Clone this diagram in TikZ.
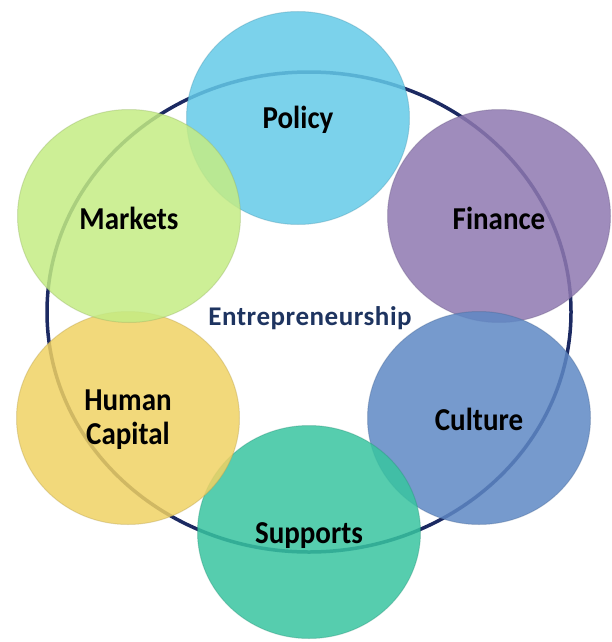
\documentclass[tikz,border=0pt]{standalone}
\usepackage{fontspec}
\setmainfont{Carlito}
\usetikzlibrary{shapes.geometric}
\definecolor{ringc}{RGB}{28,42,98}
\definecolor{entc}{RGB}{30,52,96}
\definecolor{cpolicy}{RGB}{100,202,232}
\definecolor{cfinance}{RGB}{142,120,176}
\definecolor{cculture}{RGB}{94,136,196}
\definecolor{csupports}{RGB}{56,196,160}
\definecolor{chuman}{RGB}{240,210,100}
\definecolor{cmarkets}{RGB}{196,236,132}
\newcommand{\tall}[1]{\scalebox{1}[1.1]{#1}}
\tikzset{
  bub/.style={ellipse, minimum width=223pt, minimum height=213pt, inner sep=0pt,
    fill=#1, fill opacity=0.85, text opacity=1, draw=#1!75!black, draw opacity=0.35, line width=1pt},
  lab/.style={font=\fontsize{29}{34}\selectfont\bfseries, text=black, align=center},
  ringstyle/.style={ellipse, draw=ringc, line width=3.5pt, minimum width=524pt, minimum height=480pt, inner sep=0pt},
  enttext/.style={font=\fontsize{27}{32}\selectfont\bfseries, text=entc}
}
\begin{document}
\begin{tikzpicture}[x=1pt,y=1pt]
\useasboundingbox (0,0) rectangle (611,-642);
\node[ringstyle] (ring) at (309,-312) {};
\node[enttext] (ent) at (310,-318) {\addfontfeature{LetterSpace=2}Entrepreneurship};
\node[bub=cpolicy] (policy) at (298,-118) {};
\node[bub=cfinance] (finance) at (499,-216) {};
\node[bub=cculture] (culture) at (479,-418) {};
\node[bub=csupports] (supports) at (309,-532) {};
\node[bub=chuman] (human) at (128,-418) {};
\node[bub=cmarkets] (markets) at (129,-216) {};
\node[lab] (tpolicy) at ([yshift=-2pt]policy.center) {\tall{Policy}};
\node[lab] (tfinance) at ([yshift=-2pt]finance.center) {\tall{Finance}};
\node[lab] (tculture) at ([yshift=-1pt]culture.center) {\tall{Culture}};
\node[lab] (tsupports) at ([yshift=-4pt]supports.center) {\tall{Supports}};
\node[lab] (thuman) at ([yshift=-2pt]human.center) {\tall{Human}\\\tall{Capital}};
\node[lab] (tmarkets) at ([yshift=-2pt]markets.center) {\tall{Markets}};
\end{tikzpicture}
\end{document}
